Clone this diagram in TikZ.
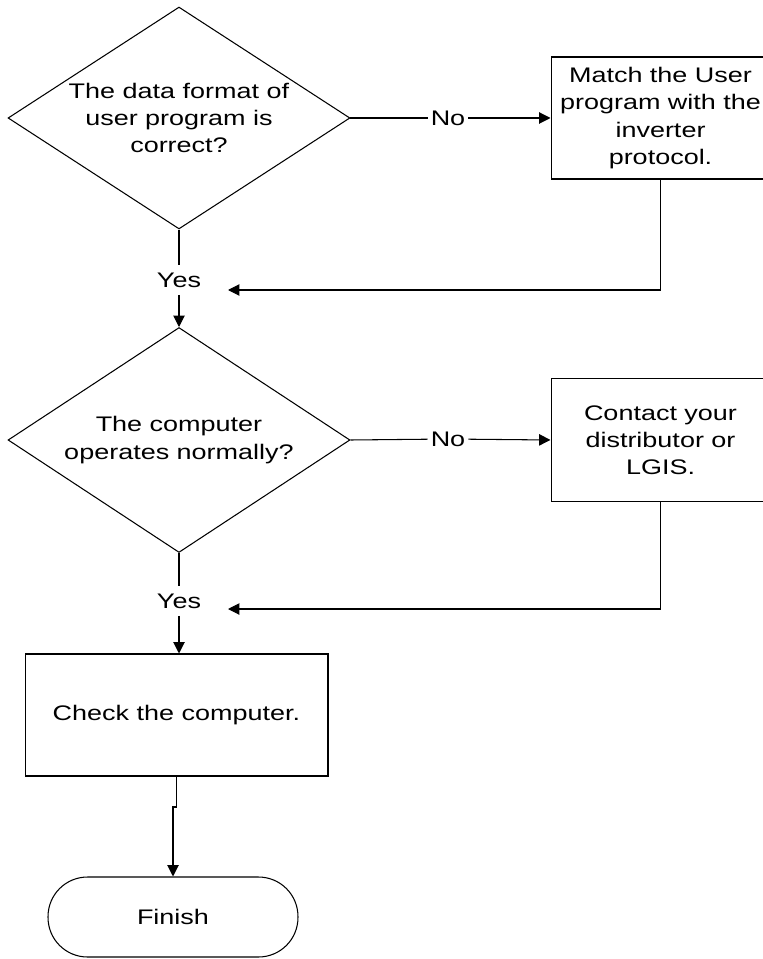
\documentclass[tikz,border=0pt]{standalone}
\usepackage{fontspec}
\setmainfont[FakeStretch=1.28]{Liberation Sans}
\usetikzlibrary{shapes.geometric,arrows.meta}

\begin{document}
\begin{tikzpicture}[x=0.02cm,y=-0.02cm,line width=0.6pt,font=\fontsize{12}{15.5}\selectfont,
  decision/.style={draw,diamond,aspect=1.54,inner sep=-4.5pt,minimum width=6.84cm,minimum height=4.44cm,align=center},
  process/.style={draw,rectangle,inner sep=0pt,minimum width=4.38cm,minimum height=2.44cm,align=center},
  answer/.style={inner sep=1.5pt},
  flow/.style={-{Triangle[length=6.5pt,width=6.5pt]}}]
\useasboundingbox (0,0) rectangle (762,959);
\node[decision] (format) at (179,118) {The data format of\\user program is\\correct?};
\node[process] (match) at (660.5,118) {Match the User\\program with the\\inverter\\protocol.};
\node[answer] (no1) at (448,118) {No};
\node[answer,inner sep=4pt] (yes1) at (179,280) {Yes};
\node[decision,minimum height=4.5cm] (computer) at (179,440) {The computer\\operates normally?};
\node[process,minimum height=2.46cm] (contact) at (660.5,440) {Contact your\\distributor or\\LGIS.};
\node[answer] (no2) at (448,439) {No};
\node[answer,inner sep=4pt] (yes2) at (179,601) {Yes};
\node[process,minimum width=6.06cm] (check) at (176.5,715) {Check the computer.};
\node[draw,rounded corners=0.79cm,minimum width=5cm,minimum height=1.6cm] (finish) at (173,917) {Finish};
\coordinate (back1) at (228,290);
\coordinate (back2) at (228,609);
\coordinate (jog) at (176.5,807);
\draw (format.east) -- (no1);
\draw[flow] (no1) -- (match.west);
\draw (format.south) -- (yes1);
\draw[flow] (yes1) -- (computer.north);
\draw[flow] (match.south) |- (back1);
\draw (computer.east) -- (no2);
\draw[flow] (no2) -- (contact.west);
\draw (computer.south) -- (yes2);
\draw[flow] (yes2.south) -- (yes2.south |- check.north);
\draw[flow] (contact.south) |- (back2);
\draw[flow] (check.south) -- (jog) -| (finish.north);
\end{tikzpicture}
\end{document}
